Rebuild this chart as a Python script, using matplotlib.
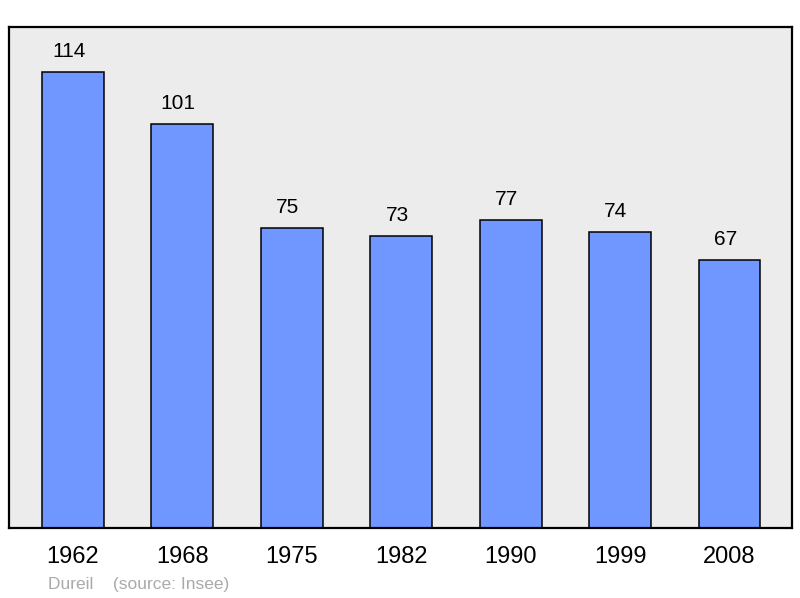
import matplotlib
matplotlib.use("Agg")
import matplotlib.pyplot as plt

years = ["1962", "1968", "1975", "1982", "1990", "1999", "2008"]
population = [114, 101, 75, 73, 77, 74, 67]

plt.rcParams['font.family'] = ['Liberation Sans', 'DejaVu Sans']

fig = plt.figure(figsize=(8, 5.98), dpi=100)
ax = fig.add_axes([9/800, 70/598, 783/800, 501/598])
ax.set_facecolor('#ececec')

x = list(range(len(years)))
bars = ax.bar(x, population, width=0.566, color='#7096ff', edgecolor='black', linewidth=1.1, zorder=2)
for xi, v in zip(x, population):
    ax.annotate(str(v), (xi, v), xytext=(-3, 8), textcoords='offset points',
                ha='center', va='bottom', fontsize=15, color='black')

ax.set_xlim(-0.584, 6.571)
ax.set_ylim(0, 125.25)
ax.set_xticks(x)
ax.set_xticklabels(years, fontsize=17)
ax.tick_params(axis='x', length=0, pad=13)
ax.set_yticks([])
for s in ax.spines.values():
    s.set_linewidth(1.6)
    s.set_color('black')

fig.text(48/800, 1 - 584/598, "Dureil    (source: Insee)", fontsize=12.5, color='#aaaaaa', va='center', ha='left')

fig.savefig("out.png", dpi=100)
